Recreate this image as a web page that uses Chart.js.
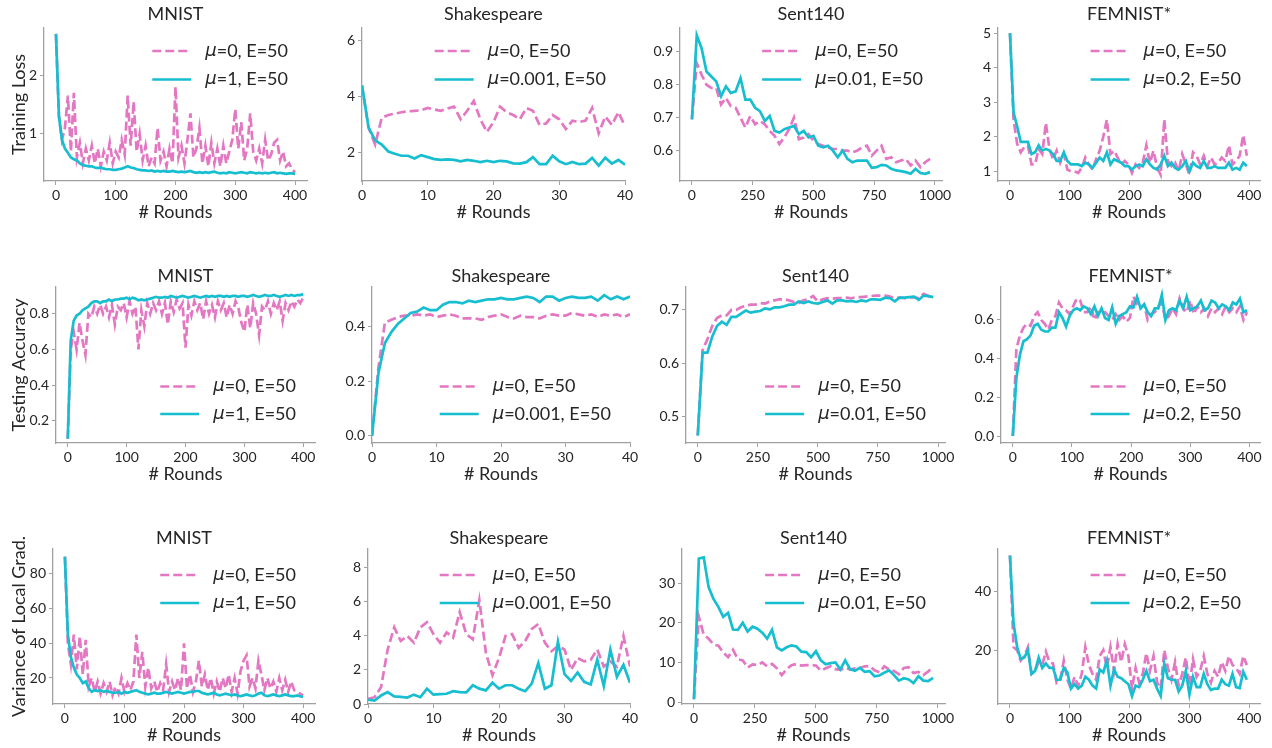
<!DOCTYPE html>
<html><head><meta charset="utf-8">
<script src="https://cdn.jsdelivr.net/npm/chart.js@4.4.0/dist/chart.umd.min.js"></script>
<style>
html,body{margin:0;padding:0;background:#fff;}
#wrap{position:relative;width:1272px;height:748px;overflow:hidden;background:#fff;}
#wrap canvas{position:absolute;left:0;top:0;}
</style></head><body><div id="wrap"></div>
<script>
// ---------- categories (rounds) ----------
const roundsMNIST = [0,5,10,15,20,25,30,35,40,45,50,55,60,65,70,75,80,85,90,95,100,105,110,115,120,125,130,135,140,145,150,155,160,165,170,175,180,185,190,195,200,205,210,215,220,225,230,235,240,245,250,255,260,265,270,275,280,285,290,295,300,305,310,315,320,325,330,335,340,345,350,355,360,365,370,375,380,385,390,395,400];
const roundsShakespeare = [0,1,2,3,4,5,6,7,8,9,10,11,12,13,14,15,16,17,18,19,20,21,22,23,24,25,26,27,28,29,30,31,32,33,34,35,36,37,38,39,40];
const roundsSent140 = [0,20,40,60,80,100,120,140,160,180,200,220,240,260,280,300,320,340,360,380,400,420,440,460,480,500,520,540,560,580,600,620,640,660,680,700,720,740,760,780,800,820,840,860,880,900,920,940,960,980];
const roundsFEMNIST = [0,6,12,18,24,30,36,42,48,54,60,66,72,78,84,90,96,102,108,114,120,126,132,138,144,150,156,162,168,174,180,186,192,198,204,210,216,222,228,234,240,246,252,258,264,270,276,282,288,294,300,306,312,318,324,330,336,342,348,354,360,366,372,378,384,390,396];

// ---------- Training loss ----------
const mnistLossMu0 = [2.7,1.3,0.9,1.1,1.65,0.7,1.7,0.6,0.85,0.5,0.75,0.55,0.8,0.5,0.75,0.45,0.7,0.55,0.85,0.5,0.7,0.6,0.9,0.65,1.65,0.8,1.55,0.7,1.0,0.55,0.8,0.45,0.6,0.5,1.1,0.55,0.7,0.45,0.75,0.5,1.8,0.6,0.8,0.5,0.9,1.35,0.6,0.75,1.1,0.5,0.8,0.45,0.85,0.5,0.75,0.45,0.8,0.5,0.7,0.9,1.42,0.75,1.2,0.55,0.75,1.35,0.7,0.55,0.75,0.5,0.9,0.55,0.65,0.85,0.9,0.55,0.7,0.45,0.5,0.4,0.35];
const mnistLossMu1 = [2.7,1.3,0.9,0.75,0.68,0.6,0.57,0.55,0.5,0.47,0.46,0.45,0.45,0.43,0.42,0.43,0.41,0.4,0.4,0.39,0.39,0.4,0.41,0.43,0.45,0.43,0.42,0.4,0.39,0.38,0.38,0.37,0.38,0.36,0.37,0.36,0.37,0.36,0.36,0.37,0.36,0.35,0.36,0.35,0.36,0.37,0.35,0.34,0.35,0.34,0.35,0.34,0.35,0.36,0.34,0.33,0.34,0.33,0.35,0.34,0.33,0.34,0.35,0.34,0.33,0.35,0.34,0.33,0.34,0.33,0.34,0.33,0.34,0.35,0.33,0.34,0.33,0.32,0.33,0.33,0.32];
const shakeLossMu0 = [4.4,2.9,2.3,3.25,3.35,3.4,3.45,3.48,3.5,3.52,3.6,3.55,3.5,3.58,3.65,3.2,3.5,3.85,3.2,2.75,3.1,3.65,3.45,3.35,3.2,3.6,3.5,3.0,3.05,3.35,3.2,2.85,3.15,3.1,3.15,3.6,2.7,3.3,3.0,3.45,2.95];
const shakeLossMu001 = [4.4,2.9,2.45,2.3,2.05,1.97,1.9,1.9,1.8,1.92,1.85,1.78,1.75,1.77,1.75,1.7,1.75,1.72,1.67,1.72,1.67,1.72,1.7,1.63,1.62,1.67,1.85,1.6,1.6,1.9,1.7,1.6,1.68,1.6,1.62,1.82,1.55,1.83,1.62,1.75,1.58];
const sentLossMu0 = [0.695,0.865,0.83,0.8,0.79,0.79,0.74,0.76,0.735,0.73,0.7,0.67,0.705,0.68,0.69,0.68,0.66,0.645,0.62,0.64,0.665,0.7,0.635,0.64,0.65,0.63,0.62,0.615,0.61,0.605,0.605,0.6,0.6,0.595,0.6,0.61,0.615,0.585,0.6,0.615,0.575,0.58,0.565,0.57,0.575,0.555,0.57,0.55,0.565,0.575];
const sentLossMu001 = [0.695,0.95,0.91,0.84,0.825,0.81,0.765,0.795,0.775,0.78,0.82,0.755,0.755,0.73,0.72,0.69,0.705,0.66,0.655,0.665,0.67,0.675,0.65,0.66,0.64,0.645,0.615,0.61,0.615,0.6,0.58,0.6,0.575,0.565,0.57,0.57,0.57,0.548,0.55,0.557,0.555,0.545,0.54,0.538,0.535,0.53,0.545,0.532,0.53,0.535];
const femLossMu0 = [5.0,2.5,1.8,1.55,1.7,1.75,1.2,1.2,1.65,1.5,2.4,1.65,1.35,1.6,1.25,1.5,1.05,1.0,1.0,0.95,1.1,1.4,1.2,1.05,1.35,1.6,2.0,2.5,1.5,1.6,1.4,1.2,1.3,1.2,0.95,1.2,1.1,1.25,1.75,1.25,1.6,1.1,0.9,2.5,1.3,1.15,1.25,1.0,1.5,1.2,0.9,1.55,1.45,1.2,1.45,1.15,1.4,1.2,1.25,1.4,1.3,1.75,1.2,1.3,1.45,2.05,1.45];
const femLossMu02 = [5.0,2.7,2.3,1.85,1.85,1.85,1.5,1.55,1.75,1.6,1.65,1.6,1.5,1.3,1.3,1.55,1.3,1.2,1.2,1.2,1.15,1.25,1.2,1.1,1.25,1.4,1.3,1.55,1.2,1.35,1.3,1.25,1.15,1.15,1.05,1.15,1.2,1.15,1.35,1.2,1.1,1.05,1.2,1.45,1.15,1.25,1.1,1.05,1.15,1.3,1.0,1.25,1.15,1.1,1.3,1.1,1.1,1.15,1.1,1.1,1.1,1.25,1.05,1.1,1.05,1.25,1.15];

// ---------- Testing accuracy ----------
const mnistAccMu0 = [0.1,0.6,0.7,0.6,0.75,0.65,0.57,0.8,0.78,0.84,0.8,0.85,0.8,0.84,0.78,0.85,0.74,0.84,0.82,0.86,0.78,0.87,0.8,0.84,0.6,0.82,0.73,0.86,0.8,0.86,0.82,0.87,0.8,0.86,0.74,0.87,0.81,0.88,0.83,0.86,0.61,0.85,0.79,0.87,0.82,0.86,0.77,0.87,0.8,0.85,0.78,0.87,0.82,0.86,0.78,0.85,0.8,0.87,0.83,0.75,0.7,0.85,0.72,0.86,0.8,0.68,0.84,0.82,0.87,0.8,0.86,0.82,0.87,0.76,0.86,0.82,0.87,0.84,0.88,0.86,0.89];
const mnistAccMu1 = [0.1,0.65,0.76,0.79,0.8,0.82,0.83,0.84,0.86,0.87,0.87,0.86,0.87,0.87,0.88,0.87,0.88,0.88,0.885,0.885,0.89,0.88,0.89,0.885,0.875,0.88,0.875,0.88,0.885,0.89,0.895,0.89,0.89,0.895,0.89,0.9,0.895,0.89,0.895,0.9,0.895,0.89,0.895,0.9,0.895,0.89,0.895,0.9,0.895,0.9,0.895,0.9,0.9,0.895,0.9,0.895,0.9,0.9,0.895,0.9,0.9,0.895,0.9,0.905,0.9,0.895,0.9,0.905,0.9,0.9,0.905,0.9,0.895,0.9,0.905,0.9,0.905,0.9,0.905,0.905,0.91];
const shakeAccMu0 = [0.0,0.25,0.415,0.425,0.435,0.44,0.44,0.445,0.44,0.445,0.435,0.44,0.445,0.44,0.43,0.43,0.43,0.425,0.435,0.44,0.445,0.435,0.43,0.44,0.435,0.435,0.43,0.44,0.445,0.44,0.44,0.45,0.445,0.44,0.445,0.435,0.445,0.44,0.445,0.435,0.445];
const shakeAccMu001 = [0.0,0.23,0.34,0.38,0.41,0.43,0.45,0.455,0.47,0.46,0.46,0.48,0.49,0.49,0.485,0.495,0.49,0.495,0.5,0.5,0.505,0.5,0.5,0.505,0.51,0.505,0.49,0.51,0.51,0.495,0.505,0.51,0.505,0.505,0.51,0.495,0.515,0.5,0.51,0.5,0.51];
const sentAccMu0 = [0.465,0.625,0.645,0.67,0.685,0.69,0.69,0.7,0.7,0.705,0.708,0.71,0.71,0.713,0.712,0.716,0.718,0.72,0.72,0.718,0.715,0.713,0.718,0.72,0.726,0.716,0.72,0.722,0.721,0.722,0.722,0.723,0.722,0.724,0.724,0.725,0.726,0.727,0.727,0.727,0.725,0.722,0.723,0.722,0.723,0.724,0.722,0.73,0.726,0.722];
const sentAccMu001 = [0.465,0.62,0.62,0.65,0.67,0.678,0.672,0.687,0.687,0.693,0.699,0.695,0.697,0.698,0.703,0.701,0.705,0.705,0.707,0.71,0.71,0.716,0.713,0.716,0.713,0.712,0.715,0.718,0.712,0.718,0.718,0.716,0.717,0.715,0.718,0.716,0.72,0.72,0.719,0.723,0.722,0.716,0.723,0.723,0.724,0.725,0.719,0.727,0.726,0.724];
const femAccMu0 = [0.0,0.45,0.52,0.56,0.58,0.57,0.62,0.64,0.6,0.58,0.55,0.6,0.62,0.69,0.66,0.65,0.63,0.67,0.71,0.7,0.64,0.64,0.67,0.6,0.64,0.63,0.64,0.62,0.6,0.63,0.6,0.62,0.59,0.61,0.72,0.68,0.66,0.68,0.6,0.63,0.64,0.67,0.69,0.6,0.62,0.66,0.63,0.71,0.66,0.64,0.7,0.63,0.67,0.64,0.66,0.62,0.66,0.64,0.66,0.63,0.67,0.64,0.66,0.64,0.67,0.6,0.64];
const femAccMu02 = [0.0,0.3,0.42,0.49,0.5,0.52,0.57,0.58,0.55,0.54,0.54,0.56,0.56,0.64,0.61,0.565,0.62,0.65,0.66,0.65,0.67,0.66,0.63,0.67,0.62,0.66,0.61,0.6,0.665,0.58,0.62,0.63,0.64,0.67,0.665,0.72,0.66,0.68,0.64,0.62,0.66,0.66,0.73,0.6,0.65,0.66,0.65,0.7,0.66,0.72,0.65,0.66,0.67,0.7,0.65,0.66,0.7,0.69,0.66,0.68,0.67,0.65,0.69,0.68,0.71,0.64,0.65];

// ---------- Variance of local gradients ----------
const mnistVarMu0 = [90,40,28,45,25,44,22,42,15,20,12,18,11,17,12,18,10,15,11,20,12,17,13,18,45,20,35,15,26,14,18,12,17,13,28,12,18,13,20,13,40,14,22,12,18,30,15,22,13,20,11,18,12,20,14,22,12,20,11,24,30,33,15,20,14,30,22,13,20,14,18,12,20,13,19,12,18,13,12,11,10];
const mnistVarMu1 = [90,45,32,26,22,20,17,18,14,12,13,12.5,13,12,12.5,12,11.5,11.5,12,11,12,11.5,12,12.5,13,12,11.5,11,10.5,11,11.5,11,11,11.5,12,11.5,11,11.5,12,11.5,11,11.5,12,12,12.5,12.5,11.5,11,10.5,11,11.5,10.5,10,10.5,11,10.5,10,10.5,10,9.5,10,10.5,10,9.5,10,11,11.5,10,9.5,10,10.5,10,9.5,10,10.5,10,9.5,9.5,10,9.5,9];
const shakeVarMu0 = [0.3,0.4,1.0,3.2,4.5,3.7,4.0,3.6,4.5,4.8,4.1,3.6,4.2,3.9,5.4,4.1,3.8,6.1,3.0,1.7,2.7,4.0,4.1,3.3,3.7,4.4,4.7,3.6,3.1,3.4,3.2,2.0,2.7,2.5,2.6,3.2,2.2,2.5,2.2,4.0,2.2];
const shakeVarMu001 = [0.25,0.2,0.5,0.7,0.45,0.42,0.38,0.55,0.4,0.9,0.55,0.58,0.6,0.75,0.7,0.68,1.1,0.9,0.8,1.25,0.9,1.1,1.1,0.9,0.75,1.2,2.4,0.9,1.1,3.65,1.75,1.35,1.85,1.3,1.15,2.6,1.05,3.2,1.6,2.3,1.25];
const sentVarMu0 = [0.7,21.5,17,16,14.5,14.2,12.5,11.3,13.2,10.8,10.5,8.7,9.5,9.3,10,9,9.6,8.5,6.8,8.3,9.3,9.6,9.2,9.3,9.3,9.2,7.9,8.5,9,8.3,8.1,8.7,8.2,8.5,8.6,9,9.1,8,7.5,9,8.2,7.8,7,8.6,8.8,7.3,7.6,6.8,7.7,8.9];
const sentVarMu001 = [0.7,36.2,36.5,29,26,24,21.5,22.5,18.3,18.2,20,17.8,19,18.5,17.5,16,18.2,13.8,13,13.8,14.3,14,12.7,12.6,11.3,12.8,10.5,9.5,9.8,10,8.2,10.5,8.3,7.9,8.6,7.6,7.8,6.5,6.7,7.4,8,6.8,5.4,6,5.7,4.8,6.5,5.4,5.3,6.1];
const femVarMu0 = [52,21,20,16.5,18,21,12,13,16,15,19.5,16,15.5,9,10,16.5,10,7,11,8,12,21,15,12,10,18,20,14,21,13,22,16,22,18,7,14,9,12,19,13,18,9,7,20,14,10,16,8,12,17.5,8,17,11,13,18,12,9,13,11,16,13,18,15,14,12,18,15];
const femVarMu02 = [52,29,21,17,17.5,20,12,13,17.5,14,15.5,14,14,10,10,14,12.5,7,8.5,7,8,11,10,8,7,13.5,12.5,16.5,8,13.5,11,10.5,9.5,8.5,4.5,8,7.5,10,13,9.5,10,7,4.5,15.5,10.5,10,10,6,8,13,5,11,7.5,7.5,12,8.5,6.5,7,7,10,8.5,8,12,7.5,7.2,12.7,10];

// ---------- tick labels ----------
const xTicks400 = [0,100,200,300,400];
const xTicks40 = [0,10,20,30,40];
const xTicks1000 = [0,250,500,750,1000];
const yTicksLossMNIST = [1,2];
const yTicksLossShake = [2,4,6];
const yTicksLossSent = [0.6,0.7,0.8,0.9];
const yTicksLossFem = [1,2,3,4,5];
const yTicksAccMNIST = [0.2,0.4,0.6,0.8];
const yTicksAccShake = [0.0,0.2,0.4];
const yTicksAccSent = [0.5,0.6,0.7];
const yTicksAccFem = [0.0,0.2,0.4,0.6];
const yTicksVarMNIST = [20,40,60,80];
const yTicksVarShake = [0,2,4,6,8];
const yTicksVarSent = [0,10,20,30];
const yTicksVarFem = [20,40];

// ---------- texts ----------
const titles = ['MNIST','Shakespeare','Sent140','FEMNIST*'];
const rowLabels = ['Training Loss','Testing Accuracy','Variance of Local Grad.'];
const xLabel = '# Rounds';
const labelMu0 = 'μ=0, E=50';
const labelsProx = ['μ=1, E=50','μ=0.001, E=50','μ=0.01, E=50','μ=0.2, E=50'];

// ---------- styles / layout ----------
const PINK = '#e377c2', CYAN = '#17becf';
const TXT = '#262626', AX = '#a0a0a0';
const FONT = 'Lato, "Open Sans", sans-serif';
const W = 1272, H = 748;

const rowGeo = [
  {t:28, b:181, titleGap:3, leg:'top', legOff:23, legSp:28.5},
  {t:287, b:443, titleGap:0, leg:'bottom', legOff:29, legSp:27.5},
  {t:549, b:704, titleGap:0, leg:'top', legOff:26, legSp:28}
];
const colGeo = [
  [[44,307],[362,625],[680,942],[998,1260]],
  [[56,315],[372,630],[686,945],[1001,1260]],
  [[53,315],[368,630],[682,945],[998,1260]]
];

const specs = [
  // row 0
  {x:roundsMNIST, a:mnistLossMu0, b:mnistLossMu1, xt:xTicks400, yt:yTicksLossMNIST, xr:[-20,420], yr:[0.2,2.8], dec:0},
  {x:roundsShakespeare, a:shakeLossMu0, b:shakeLossMu001, xt:xTicks40, yt:yTicksLossShake, xr:[0,40], yr:[1.0,6.45], dec:0},
  {x:roundsSent140, a:sentLossMu0, b:sentLossMu001, xt:xTicks1000, yt:yTicksLossSent, xr:[-49,1029], yr:[0.508,0.972], dec:1},
  {x:roundsFEMNIST, a:femLossMu0, b:femLossMu02, xt:xTicks400, yt:yTicksLossFem, xr:[-20,418], yr:[0.72,5.15], dec:0},
  // row 1
  {x:roundsMNIST, a:mnistAccMu0, b:mnistAccMu1, xt:xTicks400, yt:yTicksAccMNIST, xr:[-20,420], yr:[0.076,0.95], dec:1},
  {x:roundsShakespeare, a:shakeAccMu0, b:shakeAccMu001, xt:xTicks40, yt:yTicksAccShake, xr:[0,40], yr:[-0.026,0.545], dec:1},
  {x:roundsSent140, a:sentAccMu0, b:sentAccMu001, xt:xTicks1000, yt:yTicksAccSent, xr:[-49,1029], yr:[0.451,0.743], dec:1},
  {x:roundsFEMNIST, a:femAccMu0, b:femAccMu02, xt:xTicks400, yt:yTicksAccFem, xr:[-20,418], yr:[-0.036,0.77], dec:1},
  // row 2
  {x:roundsMNIST, a:mnistVarMu0, b:mnistVarMu1, xt:xTicks400, yt:yTicksVarMNIST, xr:[-20,420], yr:[5,94.4], dec:0},
  {x:roundsShakespeare, a:shakeVarMu0, b:shakeVarMu001, xt:xTicks40, yt:yTicksVarShake, xr:[0,40], yr:[0,9.1], dec:0},
  {x:roundsSent140, a:sentVarMu0, b:sentVarMu001, xt:xTicks1000, yt:yTicksVarSent, xr:[-49,1029], yr:[-0.5,38.6], dec:0},
  {x:roundsFEMNIST, a:femVarMu0, b:femVarMu02, xt:xTicks400, yt:yTicksVarFem, xr:[-20,418], yr:[1.8,54.2], dec:0}
];

const muLegend = {
  id:'muLegend',
  afterDatasetsDraw(chart, args, o){
    const {ctx, chartArea:ca} = chart;
    const ds = chart.data.datasets.slice().sort((p,q)=>p.legendIndex-q.legendIndex);
    const fN = '18px ' + FONT, fI = 'italic 18px "DejaVu Sans"';
    ctx.save();
    const parts = ds.map(d=>{
      ctx.font = fI; const w1 = ctx.measureText(d.label[0]).width;
      ctx.font = fN; const w2 = ctx.measureText(d.label.slice(1)).width;
      return {w1, w: w1 + w2};
    });
    const maxW = Math.max(...parts.map(p=>p.w));
    const tx = ca.right - 19 - maxW;
    ds.forEach((d,i)=>{
      const y = o.pos === 'top' ? ca.top + o.off + i*o.sp : ca.bottom - o.off - (ds.length-1-i)*o.sp;
      ctx.strokeStyle = d.borderColor; ctx.lineWidth = d.borderWidth;
      ctx.setLineDash(d.borderDash || []);
      ctx.beginPath(); ctx.moveTo(tx-14-39, y); ctx.lineTo(tx-14, y); ctx.stroke();
      ctx.setLineDash([]);
      ctx.fillStyle = TXT; ctx.textBaseline = 'middle'; ctx.textAlign = 'left';
      ctx.font = fI; ctx.fillText(d.label[0], tx, y);
      ctx.font = fN; ctx.fillText(d.label.slice(1), tx + parts[i].w1, y);
    });
    ctx.restore();
  }
};

const wrap = document.getElementById('wrap');
specs.forEach((sp, k)=>{
  const r = Math.floor(k/4), c = k%4;
  const rg = rowGeo[r], [L, R] = colGeo[r][c];
  const cv = document.createElement('canvas');
  cv.width = W; cv.height = H; wrap.appendChild(cv);
  const yW = c === 0 ? L - 8.2 : 40;
  const xH = 41.8;
  const titleH = 18*1.2 + rg.titleGap;
  new Chart(cv, {
    type:'line',
    data:{datasets:[
      {label:labelMu0, legendIndex:0, order:1, data:sp.x.map((v,i)=>({x:v, y:sp.a[i]})),
       borderColor:PINK, borderWidth:2.7, borderDash:[9,4], pointRadius:0, tension:0, fill:false},
      {label:labelsProx[c], legendIndex:1, order:0, data:sp.x.map((v,i)=>({x:v, y:sp.b[i]})),
       borderColor:CYAN, borderWidth:2.7, pointRadius:0, tension:0, fill:false}
    ]},
    options:{
      responsive:false, animation:false, devicePixelRatio:1, events:[],
      layout:{padding:{left:L - yW, right:W - R, top:rg.t - titleH, bottom:H - rg.b - xH}},
      plugins:{
        legend:{display:false}, tooltip:{enabled:false},
        title:{display:true, text:titles[c], fullSize:false, color:TXT,
               font:{family:FONT, size:18, weight:'normal'}, padding:{top:0, bottom:rg.titleGap}},
        muLegend:{pos:rg.leg, off:rg.legOff, sp:rg.legSp}
      },
      scales:{
        x:{type:'linear', min:sp.xr[0], max:sp.xr[1],
           afterBuildTicks:s=>{ s.ticks = sp.xt.map(v=>({value:v})); },
           afterFit:s=>{ s.height = xH; },
           grid:{drawOnChartArea:false, drawTicks:true, tickLength:4, color:AX, lineWidth:1},
           border:{display:true, color:AX, width:1.3},
           ticks:{font:{family:FONT, size:14}, color:TXT, padding:2, maxRotation:0, autoSkip:false, callback:v=>String(v)},
           title:{display:true, text:xLabel, color:TXT, font:{family:FONT, size:18}, padding:0}},
        y:{type:'linear', min:sp.yr[0], max:sp.yr[1],
           afterBuildTicks:s=>{ s.ticks = sp.yt.map(v=>({value:v})); },
           afterFit:s=>{ s.width = yW; },
           grid:{drawOnChartArea:false, drawTicks:true, tickLength:4, color:AX, lineWidth:1},
           border:{display:true, color:AX, width:1.3},
           ticks:{font:{family:FONT, size:14}, color:TXT, padding:3, autoSkip:false, callback:v=>Number(v).toFixed(sp.dec)},
           title:{display:c===0, text:rowLabels[r], color:TXT, font:{family:FONT, size:18}, padding:0}}
      }
    },
    plugins:[muLegend]
  });
});
</script>
</body></html>
